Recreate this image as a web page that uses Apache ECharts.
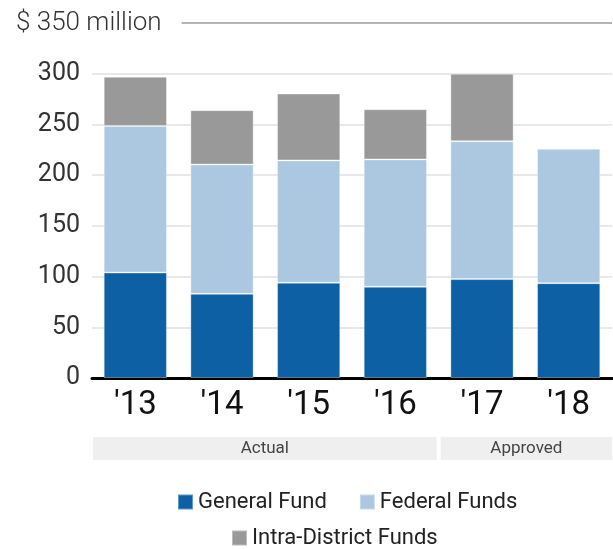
<!DOCTYPE html>
<html>
<head>
<meta charset="utf-8">
<script src="https://cdn.jsdelivr.net/npm/echarts@6/dist/echarts.min.js"></script>
<style>
  html, body { margin: 0; padding: 0; background: #fff; }
  #chart { width: 613px; height: 549px; }
</style>
</head>
<body>
<div id="chart"></div>
<script>
// Fiscal years and spending by funding source ($ millions)
const years = ["'13", "'14", "'15", "'16", "'17", "'18"];
const generalFund = [104, 83, 94, 90, 97.5, 93.5];
const federalFunds = [144.5, 127.5, 120.5, 125.5, 136, 132.5];
const intraDistrictFunds = [48.5, 53.5, 66, 49.5, 66.5, 0.5];

// Period bands under the axis: name and number of years covered
const periodNames = ['Actual', 'Approved'];
const periodSpans = [4, 2];

const yTicks = [0, 50, 100, 150, 200, 250, 300, 350];
const topLabel = '$ 350 million';

const font = 'Roboto, "Liberation Sans", sans-serif';

const chart = echarts.init(document.getElementById('chart'), null, { renderer: 'canvas' });

const gridColors = yTicks.map((t, i) => (i === yTicks.length - 1 ? '#9a9a9a' : '#e0e0e0'));

const barBorder = { borderColor: 'rgba(255,255,255,0.35)', borderWidth: 1 };

const legendText = { fontFamily: font, fontSize: 22, color: '#222' };

chart.setOption({
  animation: false,
  title: {
    text: topLabel,
    left: 13,
    top: 8,
    backgroundColor: '#fff',
    padding: [2, 20, 2, 3],
    textStyle: { fontFamily: font, fontWeight: 300, fontSize: 26, color: '#333' }
  },
  grid: { left: 92, right: 1, top: 23, bottom: 171 },
  xAxis: {
    type: 'category',
    data: years,
    axisLine: { lineStyle: { color: '#000', width: 3 } },
    axisTick: { show: false },
    axisLabel: { fontFamily: font, fontSize: 33, color: '#111', margin: 11 }
  },
  yAxis: {
    type: 'value',
    min: 0,
    max: 350,
    interval: 50,
    axisLine: { show: false },
    axisTick: { show: false },
    splitLine: { lineStyle: { color: gridColors, width: 1.5 } },
    axisLabel: {
      fontFamily: font,
      fontSize: 25,
      color: '#333',
      margin: 12,
      formatter: v => (v === 350 ? '' : String(v))
    }
  },
  legend: [
    {
      data: ['General Fund', 'Federal Funds'],
      left: 172,
      top: 486,
      itemWidth: 15,
      itemHeight: 15,
      itemGap: 32,
      icon: 'rect',
      textStyle: legendText
    },
    {
      data: ['Intra-District Funds'],
      left: 226,
      top: 522,
      itemWidth: 15,
      itemHeight: 15,
      icon: 'rect',
      textStyle: legendText
    }
  ],
  series: [
    {
      name: 'General Fund', type: 'bar', stack: 'total', data: generalFund,
      barCategoryGap: '27%',
      itemStyle: Object.assign({ color: '#0e60a5' }, barBorder)
    },
    {
      name: 'Federal Funds', type: 'bar', stack: 'total', data: federalFunds,
      barCategoryGap: '27%',
      itemStyle: Object.assign({ color: '#abc8e0' }, barBorder)
    },
    {
      name: 'Intra-District Funds', type: 'bar', stack: 'total', data: intraDistrictFunds,
      barCategoryGap: '27%',
      itemStyle: Object.assign({ color: '#999999' }, barBorder)
    }
  ]
});

// Period bands, placed from the category axis band edges
const c0 = chart.convertToPixel({ xAxisIndex: 0 }, years[0]);
const c1 = chart.convertToPixel({ xAxisIndex: 0 }, years[1]);
const band = c1 - c0;
let edge = c0 - band / 2;
const bandTop = 437;
const bandHeight = 23;
const graphics = [];
periodNames.forEach((name, i) => {
  const start = edge;
  const end = edge + periodSpans[i] * band;
  const x0 = i === 0 ? start + 1 : start + 2;
  const x1 = i === periodNames.length - 1 ? end : end - 2;
  graphics.push({
    type: 'rect',
    shape: { x: x0, y: bandTop, width: x1 - x0, height: bandHeight },
    style: { fill: '#efefef' }
  });
  graphics.push({
    type: 'text',
    x: (x0 + x1) / 2,
    y: bandTop + bandHeight / 2,
    style: {
      text: name, fill: '#444', fontFamily: font, fontSize: 17,
      textAlign: 'center', textVerticalAlign: 'middle'
    }
  });
  edge = end;
});
chart.setOption({ graphic: graphics });
</script>
</body>
</html>
